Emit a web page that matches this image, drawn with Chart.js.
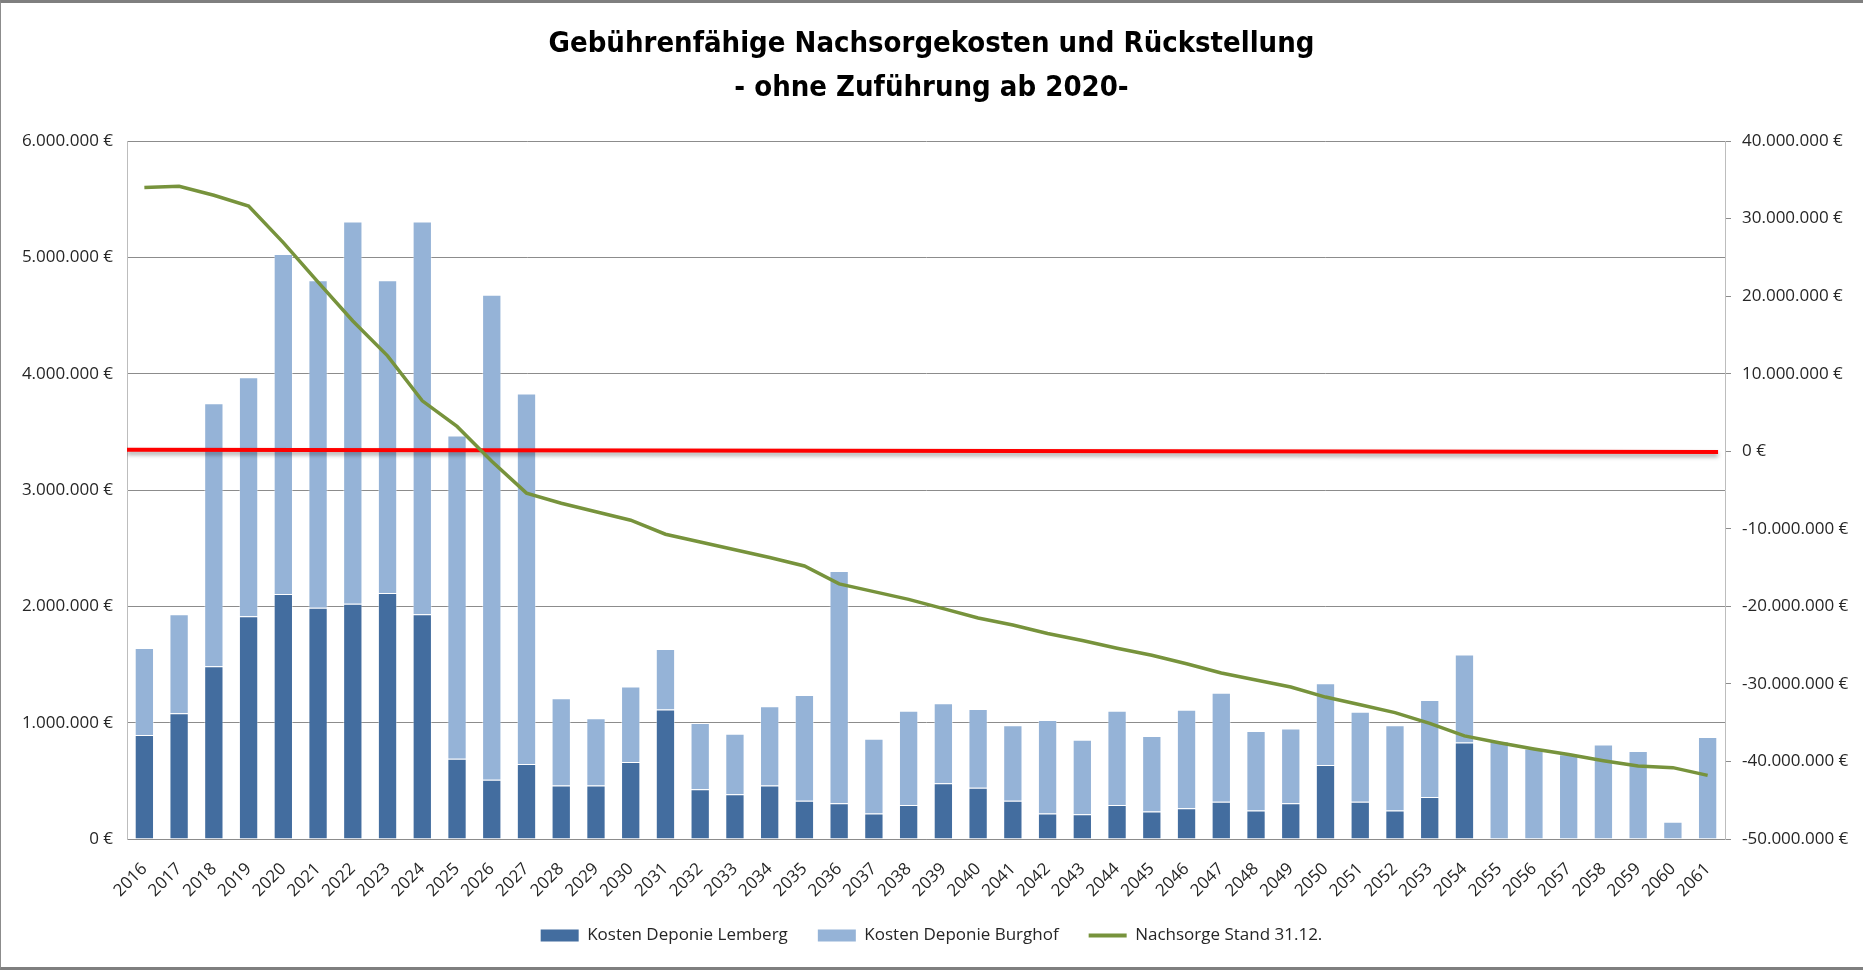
<!DOCTYPE html>
<html lang="de">
<head>
<meta charset="utf-8">
<title>Gebührenfähige Nachsorgekosten und Rückstellung</title>
<script src="https://cdn.jsdelivr.net/npm/chart.js@4.4.1/dist/chart.umd.min.js"></script>
<style>
  html, body { margin: 0; padding: 0; background: #fff; }
  #wrap { position: relative; width: 1863px; height: 970px; }
  #frame { position: absolute; inset: 0; border-top: 3px solid #7f7f7f; border-bottom: 3px solid #7f7f7f;
           border-left: 1px solid #8c8c8c; pointer-events: none; }
</style>
</head>
<body>
<div id="wrap"><canvas id="chart"></canvas><div id="frame"></div></div>
<script>
// Jahre 2016 - 2061
const jahre = ['2016','2017','2018','2019','2020','2021','2022','2023','2024','2025',
  '2026','2027','2028','2029','2030','2031','2032','2033','2034','2035',
  '2036','2037','2038','2039','2040','2041','2042','2043','2044','2045',
  '2046','2047','2048','2049','2050','2051','2052','2053','2054','2055',
  '2056','2057','2058','2059','2060','2061'];

// Kosten Deponie Lemberg (linke Achse)
const kostenLemberg = [893000, 1082000, 1486000, 1915000, 2107000, 1987000, 2023000, 2115000, 1931000, 689000,
  509000, 645000, 460000, 460000, 661000, 1114000, 428000, 385000, 460000, 328000,
  308000, 220000, 292000, 480000, 441000, 328000, 220000, 212000, 292000, 236000,
  264000, 320000, 244000, 308000, 637000, 320000, 244000, 361000, 829000, 0,
  0, 0, 0, 0, 0, 0];

// Kosten Deponie Burghof (gestapelt, linke Achse)
const kostenBurghof = [749000, 849000, 2260000, 2055000, 2921000, 2817000, 3285000, 2689000, 3377000, 2780000,
  4170000, 3185000, 750000, 577000, 649000, 520000, 569000, 520000, 682000, 909000,
  1996000, 641000, 810000, 686000, 677000, 650000, 802000, 641000, 810000, 650000,
  846000, 938000, 685000, 641000, 701000, 774000, 734000, 833000, 757000, 841000,
  777000, 729000, 813000, 757000, 148000, 877000];

// Nachsorge Stand 31.12. (rechte Achse)
const nachsorgeStand = [34000000, 34150000, 33000000, 31600000, 26900000, 21800000, 16800000, 12300000, 6500000, 3200000,
  -1300000, -5400000, -6700000, -7800000, -8900000, -10700000, -11700000, -12700000, -13700000, -14800000,
  -17100000, -18100000, -19100000, -20300000, -21500000, -22400000, -23500000, -24400000, -25400000, -26300000,
  -27400000, -28600000, -29500000, -30400000, -31700000, -32700000, -33700000, -35100000, -36700000, -37600000,
  -38400000, -39100000, -39900000, -40600000, -40800000, -41800000];

// rote Null-Linie (x in Kategorie-Einheiten 0..46, y rechte Achse)
const nullLinieX = [0, 45.8];
const nullLinieY = [200000, -100000];

const dunkelBlau = '#436d9f';
const hellBlau = '#95b3d7';
const gruen = '#77933c';
const rot = '#ff0000';
const schrift = "'Open Sans', 'Liberation Sans', sans-serif";

function euro(v) {
  const s = String(Math.abs(v)).replace(/\B(?=(\d{3})+(?!\d))/g, '.');
  return (v < 0 ? '-' : '') + s + ' €';
}

const schattenPlugin = {
  id: 'schatten',
  beforeDatasetDraw(chart, args) {
    if (args.index === 3) {
      const c = chart.ctx;
      c.save();
      c.shadowColor = 'rgba(0,0,0,0.35)';
      c.shadowBlur = 4;
      c.shadowOffsetY = 3;
    }
  },
  afterDatasetDraw(chart, args) {
    if (args.index === 3) chart.ctx.restore();
  }
};

const balken = { borderWidth: { left: 1, right: 1, top: 1, bottom: 0 }, borderColor: 'rgba(255,255,255,0.4)',
                 grouped: false, barPercentage: 0.556, categoryPercentage: 1, yAxisID: 'y', xAxisID: 'x', order: 2 };

const data = {
  labels: jahre,
  datasets: [
    { type: 'bar', label: 'Kosten Deponie Lemberg', data: kostenLemberg, backgroundColor: dunkelBlau, ...balken },
    { type: 'bar', label: 'Kosten Deponie Burghof', data: kostenBurghof, backgroundColor: hellBlau, ...balken },
    { type: 'line', label: 'Nachsorge Stand 31.12.', data: nachsorgeStand, borderColor: gruen, backgroundColor: gruen,
      borderWidth: 3.5, pointRadius: 0, tension: 0, yAxisID: 'y1', xAxisID: 'x', order: 0 },
    { type: 'line', label: '', data: nullLinieX.map((x, i) => ({ x, y: nullLinieY[i] })), borderColor: rot,
      borderWidth: 4, pointRadius: 0, yAxisID: 'y1', xAxisID: 'xr', order: 1 }
  ]
};

const options = {
  responsive: true, maintainAspectRatio: false, animation: false,
  layout: { padding: { left: 0, right: 0, top: 0, bottom: 16 } },
  plugins: {
    title: {
      display: true,
      text: ['Gebührenfähige Nachsorgekosten und Rückstellung', '- ohne Zuführung ab 2020-'],
      color: '#000',
      font: { family: "'DejaVu Sans Condensed', 'Liberation Sans Narrow', sans-serif", size: 29, weight: 'bold', lineHeight: 1.5 },
      padding: { top: 23, bottom: 31 }
    },
    legend: {
      position: 'bottom',
      labels: {
        usePointStyle: true, pointStyleWidth: 38, boxHeight: 12, padding: 30,
        color: '#262626', font: { family: schrift, size: 17 },
        generateLabels(chart) {
          const items = Chart.defaults.plugins.legend.labels.generateLabels(chart);
          return items.filter(it => it.text !== '').map(it => {
            if (it.datasetIndex === 2) { it.pointStyle = 'line'; it.lineWidth = 4; it.strokeStyle = gruen; }
            else { it.pointStyle = 'rect'; it.lineWidth = 0; }
            return it;
          });
        },
        sort: (a, b) => a.datasetIndex - b.datasetIndex
      }
    },
    tooltip: { enabled: false }
  },
  scales: {
    x: {
      stacked: true,
      grid: { display: false },
      border: { display: true, color: '#8c8c8c' },
      ticks: { autoSkip: false, minRotation: 45, maxRotation: 45, color: '#262626', padding: 12,
               font: { family: schrift, size: 17 } },
      afterFit(scale) { scale.height = 58; }
    },
    xr: { type: 'linear', display: false, min: 0, max: 46 },
    y: {
      stacked: true, position: 'left', min: 0, max: 6000000,
      grid: { color: '#8c8c8c', drawTicks: false },
      border: { display: true, color: '#bdbdbd' },
      ticks: { stepSize: 1000000, padding: 14, color: '#262626', font: { family: schrift, size: 17 },
               callback: v => euro(v) },
      afterFit(scale) { scale.width = 127; }
    },
    y1: {
      position: 'right', min: -50000000, max: 40000000,
      grid: { drawOnChartArea: false, drawTicks: true, tickLength: 6, color: '#8c8c8c' },
      border: { display: true, color: '#bdbdbd' },
      ticks: { stepSize: 10000000, padding: 11, color: '#262626', font: { family: schrift, size: 17 },
               callback: v => euro(v) },
      afterFit(scale) { scale.width = 138; }
    }
  }
};

new Chart(document.getElementById('chart').getContext('2d'), { data, options, plugins: [schattenPlugin] });
</script>
</body>
</html>
